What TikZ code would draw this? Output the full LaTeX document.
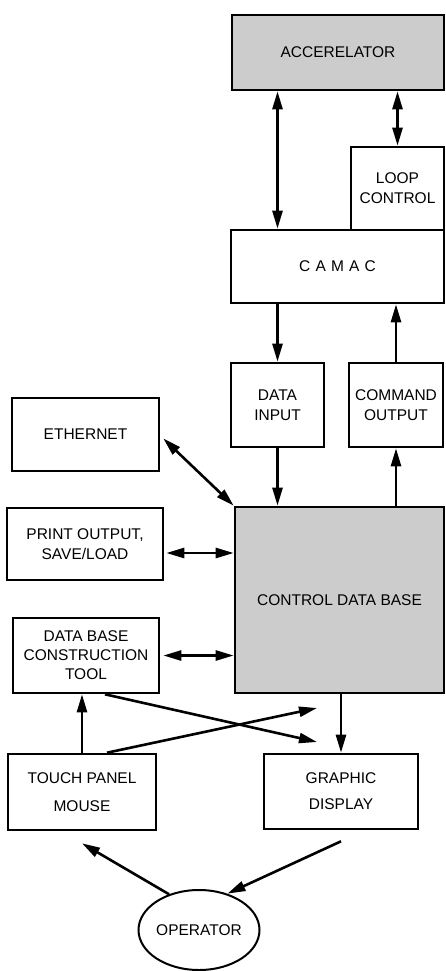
\documentclass[tikz,border=0pt]{standalone}
\usepackage{fontspec}
\setmainfont{Liberation Sans}
\usetikzlibrary{arrows.meta, shapes.geometric}

\begin{document}
\begin{tikzpicture}[x=1pt, y=-1pt, >={Triangle[length=18pt, width=10pt]},
    font=\fontsize{15.5}{20}\selectfont,
    box/.style={draw, line width=2.6pt, align=center, inner sep=0pt},
    shaded/.style={box, fill=black!20},
    link/.style={line width=2.6pt, ->},
    dlink/.style={line width=2.6pt, <->}]

    \useasboundingbox (0,0) rectangle (445,971);

    % -------------------------------------------------------------
    % TOP: ACCELERATOR, LOOP CONTROL AND CAMAC
    % -------------------------------------------------------------
    \node[shaded, minimum width=212, minimum height=75] (acc) at (338,52.5) {ACCERELATOR};
    \node[box, minimum width=93, minimum height=83] (loop) at (397.5,188.5) {LOOP\\CONTROL};
    \node[box, minimum width=213, minimum height=73] (camac) at (337.5,266.5) {C\,\,A\,\,M\,\,A\,\,C};

    % -------------------------------------------------------------
    % MIDDLE: INPUT / OUTPUT AND THE DATA BASE
    % -------------------------------------------------------------
    \node[box, minimum width=93, minimum height=84] (din) at (277.5,405) {DATA\\INPUT};
    \node[box, minimum width=94, minimum height=84] (cout) at (396,405) {COMMAND\\OUTPUT};
    \node[shaded, minimum width=209, minimum height=186] (cdb) at (339.5,600) {CONTROL DATA BASE};

    % Left column
    \node[box, minimum width=147, minimum height=73] (eth) at (85.5,434.5) {ETHERNET};
    \node[box, minimum width=156, minimum height=72] (prt) at (85,544) {PRINT OUTPUT,\\SAVE/LOAD};
    \node[box, minimum width=146, minimum height=75, font=\fontsize{15.5}{19}\selectfont] (dbct) at (86,655.5) {DATA BASE\\CONSTRUCTION\\TOOL};

    % -------------------------------------------------------------
    % BOTTOM: OPERATOR SIDE
    % -------------------------------------------------------------
    \node[box, minimum width=148, minimum height=76, font=\fontsize{15.5}{28}\selectfont] (tp) at (82,792) {TOUCH PANEL\\MOUSE};
    \node[box, minimum width=154, minimum height=75, font=\fontsize{15.5}{26}\selectfont] (gd) at (341,791.5) {GRAPHIC\\DISPLAY};
    \node[draw, ellipse, line width=2pt, minimum width=118, minimum height=80, inner sep=0pt] (op) at (199,930) {OPERATOR};

    % Free ends of the crossing arrows
    \coordinate (xa) at (317,742);
    \coordinate (xb) at (317,708);

    % -------------------------------------------------------------
    % CONNECTIONS
    % -------------------------------------------------------------
    \draw[dlink] (acc.south -| din) -- (camac.north -| din);
    \draw[dlink] (acc.south -| loop) -- (loop.north);
    \draw[link] (camac.south -| din) -- (din.north);
    \draw[link] (cout.north) -- (camac.south -| cout);
    \draw[link] (din.south) -- (cdb.north -| din);
    \draw[link] (cdb.north -| cout) -- (cout.south);

    \draw[dlink] ([shift={(3,4)}]eth.east) -- (cdb.north west);
    \draw[dlink] ([shift={(2,9)}]prt.east) -- ([yshift=-9pt]prt.east -| cdb.west);
    \draw[dlink] ([xshift=3pt]dbct.east) -- (dbct.east -| cdb.west);

    \draw[link] (cdb.south -| gd) -- (gd.north);
    \draw[link] (tp.north) -- (tp.north |- dbct.south);
    \draw[link] ([xshift=19pt]dbct.south) -- (xa);
    \draw[link] ([xshift=25pt]tp.north) -- (xb);

    \draw[link] (op.130) -- ([yshift=-12pt]tp.south);
    \draw[link] ([yshift=-11pt]gd.south) -- (op.52);

\end{tikzpicture}
\end{document}
